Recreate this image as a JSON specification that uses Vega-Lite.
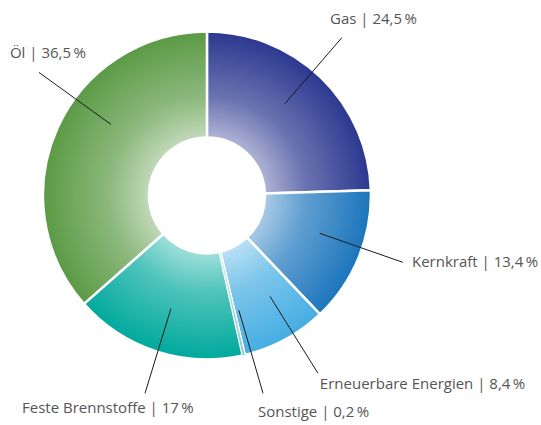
{
  "$schema": "https://vega.github.io/schema/vega-lite/v6.json",
  "width": 541,
  "height": 425,
  "padding": 0,
  "autosize": {"type": "none"},
  "background": "white",
  "config": {"view": {"stroke": null}},
  "datasets": {
    "slices": [
      {"category": "Gas", "value": 24.5, "order": 1},
      {"category": "Kernkraft", "value": 13.4, "order": 2},
      {"category": "Erneuerbare Energien", "value": 8.4, "order": 3},
      {"category": "Sonstige", "value": 0.2, "order": 4},
      {"category": "Feste Brennstoffe", "value": 17, "order": 5},
      {"category": "Öl", "value": 36.5, "order": 6}
    ],
    "ring": [{"value": 100}],
    "leaders": [
      {"category": "Gas", "x1": 47.9, "y1": 56.4, "x2": 82.8, "y2": 96.9},
      {"category": "Kernkraft", "x1": 69.3, "y1": -23.3, "x2": 120.2, "y2": -41.1},
      {"category": "Erneuerbare Energien", "x1": 38.7, "y1": -62.0, "x2": 68.1, "y2": -109.2},
      {"category": "Sonstige", "x1": 19.6, "y1": -70.6, "x2": 34.4, "y2": -121.5},
      {"category": "Feste Brennstoffe", "x1": -22.1, "y1": -69.5, "x2": -38.0, "y2": -121.5},
      {"category": "Öl", "x1": -58.9, "y1": 43.6, "x2": -103.1, "y2": 75.5}
    ],
    "labels": [
      {"label": "Gas | 24,5\u2009%", "x": 75.5, "y": 108.6},
      {"label": "Öl | 36,5\u2009%", "x": -120.9, "y": 87.7},
      {"label": "Kernkraft | 13,4\u2009%", "x": 125.8, "y": -41.1},
      {"label": "Erneuerbare Energien | 8,4\u2009%", "x": 69.3, "y": -116.0},
      {"label": "Sonstige | 0,2\u2009%", "x": 31.3, "y": -133.1},
      {"label": "Feste Brennstoffe | 17\u2009%", "x": -113.5, "y": -130.4}
    ]
  },
  "layer": [
    {
      "data": {"name": "slices"},
      "mark": {"type": "arc", "innerRadius": 58, "outerRadius": 164, "stroke": "white", "strokeWidth": 2.5},
      "encoding": {
        "theta": {"field": "value", "type": "quantitative", "stack": true},
        "order": {"field": "order", "type": "quantitative"},
        "color": {
          "field": "category",
          "type": "nominal",
          "scale": {
            "domain": ["Gas", "Kernkraft", "Erneuerbare Energien", "Sonstige", "Feste Brennstoffe", "Öl"],
            "range": ["#2b388f", "#1b75bc", "#45ade2", "#8fcfc3", "#00a99d", "#5b9a45"]
          },
          "legend": null
        },
        "x": {"datum": 0, "type": "quantitative", "scale": {"domain": [-127, 205], "nice": false, "zero": false}, "axis": null},
        "y": {"datum": 0, "type": "quantitative", "scale": {"domain": [-141, 120], "nice": false, "zero": false}, "axis": null}
      }
    },
    {
      "data": {"name": "slices"},
      "transform": [
        {"stack": "value", "groupby": [], "sort": [{"field": "order", "order": "ascending"}], "as": ["v0", "v1"]},
        {"filter": "datum.category === 'Sonstige'"}
      ],
      "mark": {"type": "arc", "innerRadius": 58, "outerRadius": 164, "color": "#8fcfc3"},
      "encoding": {
        "theta": {"field": "v0", "type": "quantitative", "scale": {"domain": [0, 100]}},
        "theta2": {"field": "v1"},
        "x": {"datum": 0, "type": "quantitative", "axis": null},
        "y": {"datum": 0, "type": "quantitative", "axis": null}
      }
    },
    {
      "data": {"name": "ring"},
      "mark": {
        "type": "arc",
        "innerRadius": 58,
        "outerRadius": 164,
        "color": {
          "gradient": "radial",
          "x1": 0.5, "y1": 0.5, "r1": 0,
          "x2": 0.5, "y2": 0.5, "r2": 0.5,
          "stops": [
            {"offset": 0, "color": "rgba(255,255,255,0.7)"},
            {"offset": 0.356, "color": "rgba(255,255,255,0.62)"},
            {"offset": 0.6, "color": "rgba(255,255,255,0.3)"},
            {"offset": 1, "color": "rgba(255,255,255,0)"}
          ]
        }
      },
      "encoding": {
        "theta": {"field": "value", "type": "quantitative"},
        "x": {"datum": 0, "type": "quantitative", "axis": null},
        "y": {"datum": 0, "type": "quantitative", "axis": null}
      }
    },
    {
      "data": {"name": "leaders"},
      "mark": {"type": "rule", "color": "#1a1a1a", "strokeWidth": 1},
      "encoding": {
        "x": {"field": "x1", "type": "quantitative", "axis": null},
        "y": {"field": "y1", "type": "quantitative", "axis": null},
        "x2": {"field": "x2"},
        "y2": {"field": "y2"}
      }
    },
    {
      "data": {"name": "labels"},
      "mark": {"type": "text", "align": "left", "baseline": "middle", "font": "Open Sans", "fontSize": 15, "color": "#555555"},
      "encoding": {
        "x": {"field": "x", "type": "quantitative", "axis": null},
        "y": {"field": "y", "type": "quantitative", "axis": null},
        "text": {"field": "label"}
      }
    }
  ],
  "resolve": {"scale": {"theta": "independent"}}
}
